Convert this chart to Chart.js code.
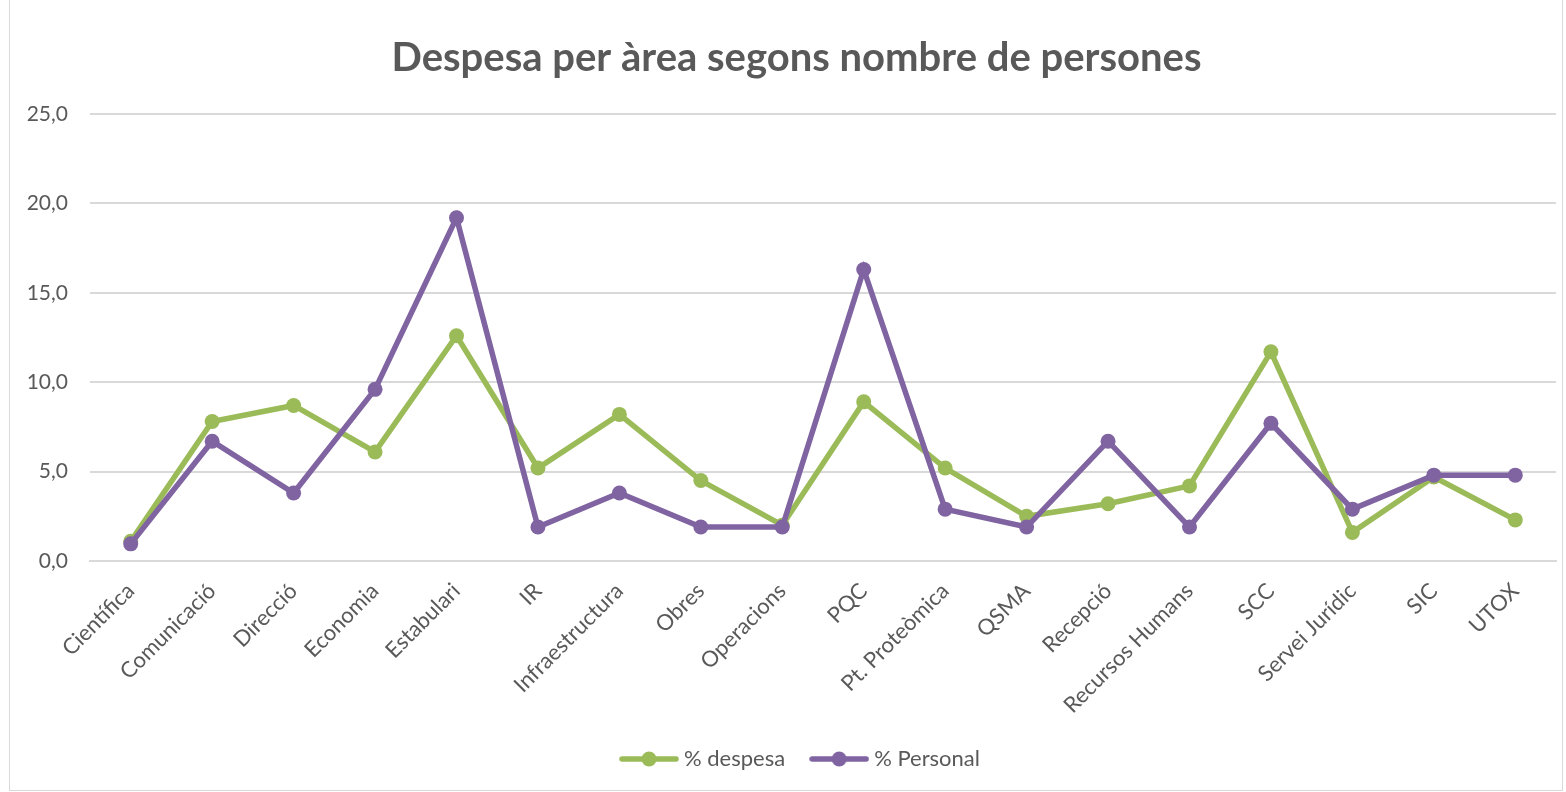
<!DOCTYPE html>
<html>
<head>
<meta charset="utf-8">
<script src="https://cdn.jsdelivr.net/npm/chart.js@4.4.1/dist/chart.umd.min.js"></script>
<style>
html,body{margin:0;padding:0;background:#fff;}
#wrap{position:relative;width:1566px;height:792px;}
</style>
</head>
<body>
<div id="wrap"><canvas id="c" width="1566" height="792"></canvas></div>
<script>
const categories = ["Científica","Comunicació","Direcció","Economia","Estabulari","IR","Infraestructura","Obres","Operacions","PQC","Pt. Proteòmica","QSMA","Recepció","Recursos Humans","SCC","Servei Jurídic","SIC","UTOX"];
const despesa = [1.1,7.8,8.7,6.1,12.6,5.2,8.2,4.5,2.0,8.9,5.2,2.5,3.2,4.2,11.7,1.6,4.7,2.3];
const personal = [0.96,6.7,3.8,9.6,19.2,1.9,3.8,1.9,1.9,16.3,2.9,1.9,6.7,1.9,7.7,2.9,4.8,4.8];
const yTicks = {min:0, max:25, step:5};
const seriesNames = ["% despesa","% Personal"];
const GREEN = "#9BBB59", PURPLE = "#8064A2", TXT = "#595959", GRID = "#D9D9D9";
const FONT = "Lato, 'Open Sans', sans-serif";

function legendIcon(color){
  const cv = document.createElement('canvas');
  cv.width = 60; cv.height = 18;
  const g = cv.getContext('2d');
  g.strokeStyle = color; g.lineWidth = 5.5; g.lineCap = 'round';
  g.beginPath(); g.moveTo(3,9); g.lineTo(57,9); g.stroke();
  g.fillStyle = color; g.beginPath(); g.arc(30,9,7.5,0,Math.PI*2); g.fill();
  return cv;
}

const borderPlugin = {
  id:'borderPlugin',
  afterLayout(chart){
    const t = chart.titleBlock;
    if (t) { t.left += 14; t.right += 14; }
    const l = chart.legend;
    if (l) { l.left += 20; l.right += 20; }
  },
  afterDraw(chart){
    const c = chart.ctx;
    c.save(); c.strokeStyle = GRID; c.lineWidth = 1;
    c.strokeRect(9.5, -1, 1553, 791.5);
    c.restore();
  }
};

new Chart(document.getElementById('c'), {
  type:'line',
  data:{
    labels: categories,
    datasets:[
      {label:seriesNames[0], data:despesa, borderColor:GREEN, backgroundColor:GREEN, pointBackgroundColor:GREEN, pointBorderColor:GREEN, borderWidth:5.5, pointRadius:7.5, pointBorderWidth:0, pointHoverRadius:7.5, tension:0, order:2},
      {label:seriesNames[1], data:personal, borderColor:PURPLE, backgroundColor:PURPLE, pointBackgroundColor:PURPLE, pointBorderColor:PURPLE, borderWidth:5.5, pointRadius:7.5, pointBorderWidth:0, pointHoverRadius:7.5, tension:0, order:1}
    ]
  },
  options:{
    responsive:false, animation:false,
    layout:{padding:{left:9, right:10, top:0, bottom:12}},
    plugins:{
      title:{display:true, text:"Despesa per àrea segons nombre de persones", color:TXT, font:{family:FONT, size:40, weight:'bold'}, padding:{top:34, bottom:32}},
      legend:{position:'bottom', labels:{color:TXT, font:{family:FONT, size:22}, usePointStyle:true, pointStyleWidth:48, padding:30,
        generateLabels(chart){
          return chart.data.datasets.map((ds,i)=>({text:ds.label, pointStyle:legendIcon(ds.borderColor), fillStyle:ds.borderColor, strokeStyle:ds.borderColor, lineWidth:0, hidden:false, datasetIndex:i, fontColor:TXT}));
        }}},
      tooltip:{enabled:false}
    },
    scales:{
      x:{offset:true, grid:{display:false, drawTicks:false}, border:{display:true, color:GRID, width:2},
        ticks:{color:TXT, font:{family:FONT, size:22}, maxRotation:45, minRotation:45, autoSkip:false, padding:17},
        afterFit(s){ s.height = 157; }},
      y:{min:yTicks.min, max:yTicks.max, grid:{color:GRID, lineWidth:2, drawTicks:false}, border:{display:false},
        ticks:{stepSize:yTicks.step, color:TXT, font:{family:FONT, size:21}, padding:22,
          callback:(v)=>v.toFixed(1).replace('.',',')},
        afterFit(s){ s.width = 81; }}
    }
  },
  plugins:[borderPlugin]
});
</script>
</body>
</html>
